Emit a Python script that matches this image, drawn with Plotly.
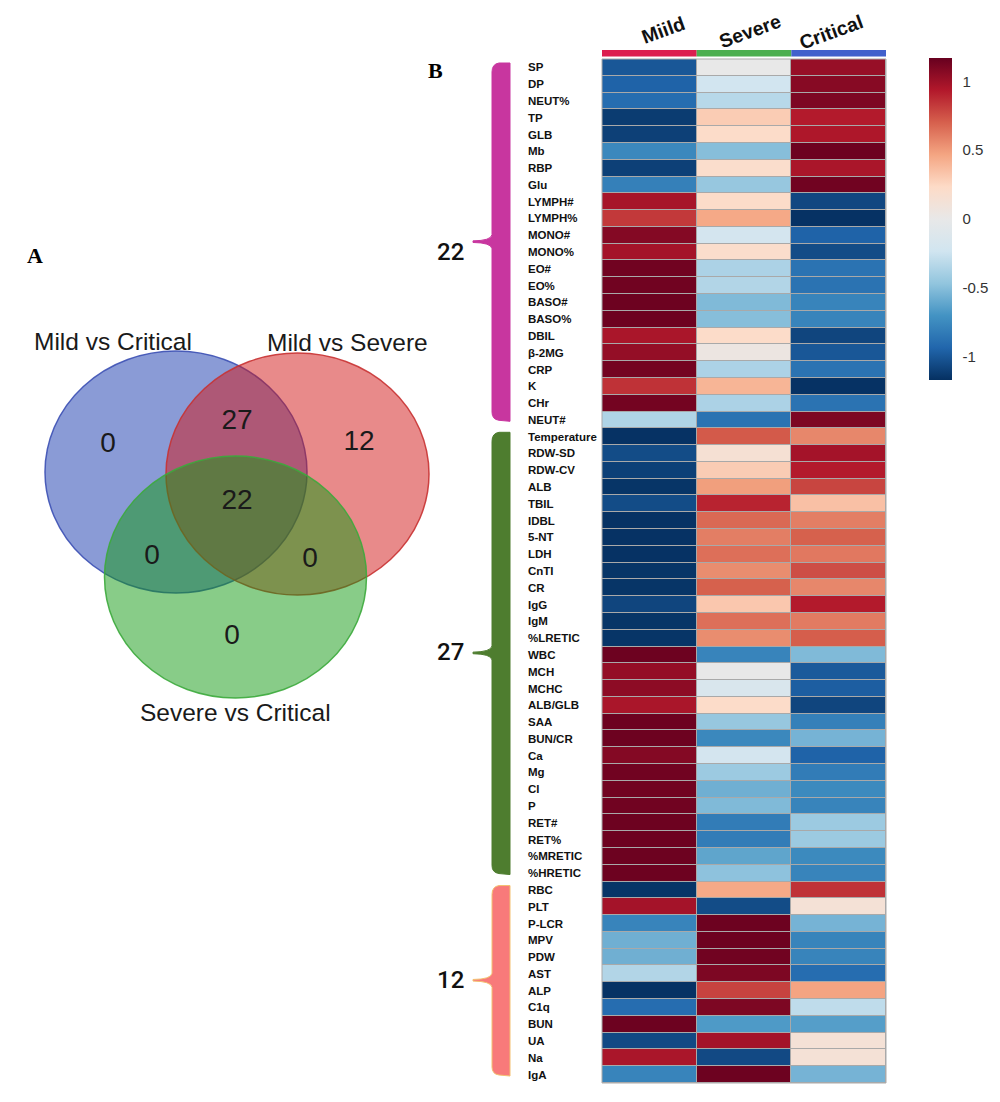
import plotly.graph_objects as go

W, H = 1000, 1102
OX, OY = 8, 8  # page body margin offset

# ---------------- DATA ----------------
groups = ["Miild", "Severe", "Critical"]
group_colors = ["#dc1e4f", "#4caf50", "#4161cc"]

features = [
    "SP", "DP", "NEUT%", "TP", "GLB", "Mb", "RBP", "Glu", "LYMPH#", "LYMPH%",
    "MONO#", "MONO%", "EO#", "EO%", "BASO#", "BASO%", "DBIL", "β-2MG", "CRP", "K",
    "CHr", "NEUT#",
    "Temperature", "RDW-SD", "RDW-CV", "ALB", "TBIL", "IDBL", "5-NT", "LDH", "CnTI", "CR",
    "IgG", "IgM", "%LRETIC", "WBC", "MCH", "MCHC", "ALB/GLB", "SAA", "BUN/CR", "Ca",
    "Mg", "Cl", "P", "RET#", "RET%", "%MRETIC", "%HRETIC",
    "RBC", "PLT", "P-LCR", "MPV", "PDW", "AST", "ALP", "C1q", "BUN", "UA", "Na", "IgA",
]

mild = [
    -1.00, -0.95, -0.90, -1.12, -1.10, -0.76, -1.10, -0.80, 0.97, 0.83,
    1.08, 0.98, 1.14, 1.14, 1.15, 1.15, 0.96, 1.03, 1.13, 0.85,
    1.13, -0.36,
    -1.16, -1.05, -1.10, -1.15, -1.05, -1.16, -1.16, -1.16, -1.15, -1.15,
    -1.08, -1.15, -1.15, 1.15, 1.03, 1.05, 0.96, 1.15, 1.15, 1.08,
    1.14, 1.14, 1.14, 1.15, 1.15, 1.15, 1.15,
    -1.15, 0.98, -0.78, -0.57, -0.57, -0.35, -1.16, -0.90, 1.15, -1.06, 0.96, -0.78,
]

severe = [
    0.00, -0.22, -0.33, 0.30, 0.22, -0.50, 0.20, -0.45, 0.22, 0.45,
    -0.20, 0.20, -0.37, -0.35, -0.52, -0.50, 0.22, 0.05, -0.37, 0.40,
    -0.37, -0.87,
    0.72, 0.15, 0.30, 0.49, 0.90, 0.67, 0.60, 0.65, 0.55, 0.70,
    0.32, 0.65, 0.55, -0.78, 0.00, -0.15, 0.22, -0.45, -0.76, -0.20,
    -0.43, -0.57, -0.52, -0.82, -0.82, -0.62, -0.48,
    0.45, -1.05, 1.15, 1.15, 1.14, 1.10, 0.80, 1.10, -0.67, 0.98, -1.06, 1.15,
]

critical = [
    1.02, 1.07, 1.10, 0.93, 0.95, 1.15, 0.96, 1.14, -1.07, -1.16,
    -0.95, -1.05, -0.87, -0.87, -0.78, -0.78, -1.08, -1.00, -0.87, -1.16,
    -0.87, 1.10,
    0.57, 0.98, 0.93, 0.79, 0.35, 0.60, 0.70, 0.62, 0.76, 0.57,
    0.93, 0.61, 0.71, -0.52, -0.99, -0.97, -1.08, -0.80, -0.55, -0.95,
    -0.82, -0.75, -0.78, -0.43, -0.43, -0.75, -0.78,
    0.85, 0.13, -0.55, -0.78, -0.78, -0.90, 0.47, -0.30, -0.65, 0.13, 0.13, -0.55,
]

colorbar_ticks = [-1, -0.5, 0, 0.5, 1]
colorbar_ticktext = ["-1", "-0.5", "0", "0.5", "1"]

bracket_counts = [22, 27, 12]
bracket_colors = ["#c8369f", "#4e7d2f", "#f87a7a"]
bracket_edges = ["#c8369f", "#4e7d2f", "#f3c070"]

venn_sets = ["Mild vs Critical", "Mild vs Severe", "Severe vs Critical"]
venn_regions = ["MC only", "MC & MS", "MS only", "all", "MC & SC", "MS & SC", "SC only"]
venn_counts = [0, 27, 12, 22, 0, 0, 0]

# ---------------- LAYOUT HELPERS (page pixel positions) ----------------
def pyp(p):
    return 1 - (p - OY) / H

def pxp(p):
    return (p - OX) / W

HM_TOP, HM_BOT = 59, 1083
HM_LEFT, HM_RIGHT = 602, 886
n_rows = len(features)
row_h = (HM_BOT - HM_TOP) / n_rows

z = [[mild[i], severe[i], critical[i]] for i in range(n_rows)]

cs = [[0.0, "rgb(5,48,97)"], [0.1, "rgb(33,102,172)"], [0.2, "rgb(67,147,195)"],
      [0.3, "rgb(146,197,222)"], [0.4, "rgb(209,229,240)"], [0.5, "rgb(232,232,232)"],
      [0.6, "rgb(253,219,199)"], [0.7, "rgb(244,165,130)"], [0.8, "rgb(214,96,77)"],
      [0.9, "rgb(178,24,43)"], [1.0, "rgb(103,0,31)"]]

fig = go.Figure()

fig.add_trace(go.Heatmap(
    z=z, x=list(range(len(groups))), y=features,
    colorscale=cs, zmin=-1.17, zmax=1.17,
    xgap=1, ygap=1, hoverinfo="skip",
    xaxis="x", yaxis="y",
    colorbar=dict(
        x=pxp(929), xanchor="left", xpad=0, ypad=0,
        y=pyp(219), yanchor="middle",
        thickness=23, lenmode="pixels", len=322,
        tickvals=colorbar_ticks, ticktext=colorbar_ticktext,
        ticks="outside", ticklen=8, tickcolor="rgba(0,0,0,0)",
        tickfont=dict(family="Liberation Sans, Arial", size=15, color="#333333"),
        outlinewidth=0,
    ),
))

# Venn region positions (layout, page pixel space)
venn_pos = [(108, 445), (237, 422), (359, 443), (237, 502), (152, 557), (310, 560), (232, 637)]
fig.add_trace(go.Scatter(
    x=[p[0] for p in venn_pos], y=[p[1] for p in venn_pos],
    text=[str(c) for c in venn_counts], mode="text",
    textfont=dict(family="Liberation Sans, Arial", size=28, color="#1a1a1a"),
    hoverinfo="skip", showlegend=False, xaxis="x3", yaxis="y3",
))

shapes = []
annotations = []

# gray grid background behind heatmap cells
shapes.append(dict(type="rect", xref="x domain", yref="y domain", x0=0, x1=1, y0=0, y1=1,
                   fillcolor="#a9a9a9", line=dict(width=0), layer="below"))
shapes.append(dict(type="rect", xref="x domain", yref="y domain", x0=0, x1=1, y0=0, y1=1,
                   fillcolor="rgba(0,0,0,0)", line=dict(color="#a9a9a9", width=1), layer="above"))

# group colour strip above heatmap
for i, c in enumerate(group_colors):
    shapes.append(dict(type="rect", xref="x", yref="paper", x0=i - 0.5, x1=i + 0.5,
                       y0=pyp(56.5), y1=pyp(50), fillcolor=c, line=dict(width=0)))

# column headers
header_pos = [(663, 30), (750, 31), (831, 32)]
for g, (hx, hy) in zip(groups, header_pos):
    annotations.append(dict(text="<b>%s</b>" % g, x=hx, y=hy, xref="x3", yref="y3",
                            showarrow=False, textangle=-20, xanchor="center", yanchor="middle",
                            borderpad=0,
                            font=dict(family="Liberation Sans, Arial", size=19.5, color="#111111")))

# row labels
for f in features:
    annotations.append(dict(text="<b>%s</b>" % f, x=pxp(526), y=f, xref="paper", yref="y",
                            showarrow=False, xanchor="left", yanchor="middle",
                            font=dict(family="Liberation Sans, Arial", size=11.5, color="#111111")))

# brackets
label_dy = [10, -1, 0]
start = 0
for k, n in enumerate(bracket_counts):
    gtop = HM_TOP + start * row_h
    gbot = HM_TOP + (start + n) * row_h
    top, bot = gtop + 4, gbot - 7
    tip = (gtop + gbot) / 2 - 2
    xl, xr, xt = 492, 510, 473
    path = (f"M {xr},{top} L {xr},{bot} L {xl+7},{bot-1} Q {xl},{bot-2} {xl},{bot-9} "
            f"L {xl},{tip+7} Q {xl-1},{tip+1} {xt},{tip+0.8} L {xt},{tip-0.8} "
            f"Q {xl-1},{tip-1} {xl},{tip-7} L {xl},{top+9} Q {xl},{top+1} {xl+7},{top} Z")
    shapes.append(dict(type="path", xref="x3", yref="y3", path=path,
                       fillcolor=bracket_colors[k], line=dict(color=bracket_edges[k], width=1)))
    annotations.append(dict(text=str(n), x=450, y=tip + label_dy[k], xref="x3", yref="y3",
                            showarrow=False, xanchor="center", yanchor="middle",
                            font=dict(family="Roboto, Liberation Sans", size=24, color="#111111",
                                      weight=500)))
    start += n

# Venn ellipses (page pixel space)
venn_shapes = [
    ((176, 472), (131, 121), "rgba(21,55,173,0.5)", "rgba(60,80,180,0.9)"),
    ((297.5, 474), (131.5, 121), "rgba(209,21,21,0.5)", "rgba(200,50,50,0.9)"),
    ((235.5, 577), (131, 121), "rgba(17,153,17,0.5)", "rgba(60,170,60,0.9)"),
]
for (cx, cy), (rx, ry), fc, lc in venn_shapes:
    shapes.append(dict(type="circle", xref="x3", yref="y3", x0=cx - rx, x1=cx + rx,
                       y0=cy - ry, y1=cy + ry, fillcolor=fc, line=dict(color=lc, width=1.5),
                       layer="below"))

venn_label_pos = [(113, 341), (347, 342), (235, 712)]
for t, (lx, ly) in zip(venn_sets, venn_label_pos):
    annotations.append(dict(text=t, x=lx, y=ly, xref="x3", yref="y3", showarrow=False,
                            xanchor="center", yanchor="middle",
                            font=dict(family="Liberation Sans, Arial", size=24.5, color="#1a1a1a")))

# panel letters
annotations.append(dict(text="<b>A</b>", x=35, y=255, xref="x3", yref="y3", showarrow=False,
                        font=dict(family="Liberation Serif, Times New Roman", size=22, color="#000")))
annotations.append(dict(text="<b>B</b>", x=435, y=70, xref="x3", yref="y3", showarrow=False,
                        font=dict(family="Liberation Serif, Times New Roman", size=22, color="#000")))

fig.update_layout(
    width=W, height=H, margin=dict(l=0, r=0, t=0, b=0),
    paper_bgcolor="white", plot_bgcolor="rgba(0,0,0,0)",
    showlegend=False,
    xaxis=dict(domain=[pxp(HM_LEFT), pxp(HM_RIGHT)], anchor="y", visible=False, fixedrange=True),
    yaxis=dict(domain=[pyp(HM_BOT), pyp(HM_TOP)], anchor="x", visible=False,
               autorange="reversed", type="category", fixedrange=True),
    xaxis3=dict(domain=[0, 1], range=[OX, W + OX], anchor="y3", visible=False, fixedrange=True),
    yaxis3=dict(domain=[0, 1], range=[H + OY, OY], anchor="x3", visible=False, fixedrange=True),
    shapes=shapes, annotations=annotations,
)

fig.write_html("out.html")
